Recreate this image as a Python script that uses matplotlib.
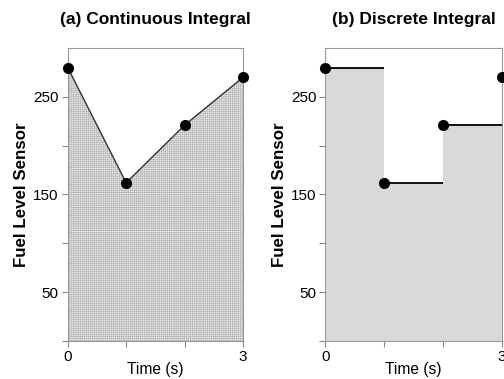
import matplotlib
matplotlib.use("Agg")
import matplotlib.pyplot as plt
import numpy as np

plt.rcParams['font.family'] = ['Liberation Sans', 'DejaVu Sans']
plt.rcParams['hatch.color'] = '#b4b4b4'
plt.rcParams['hatch.linewidth'] = 0.4

time_s = [0, 1, 2, 3]
fuel_level = [280, 162, 221, 270]
x_ticks = [0, 1, 2, 3]
x_tick_labels = ['0', '', '', '3']
y_ticks = [0, 50, 100, 150, 200, 250]
y_tick_labels = ['', '50', '', '150', '', '250']
titles = ['(a) Continuous Integral', '(b) Discrete Integral']

fig = plt.figure(figsize=(5.04, 3.79), dpi=100)
ax_a = fig.add_axes([0.1343, 0.1003, 0.348, 0.7731])
ax_b = fig.add_axes([0.6454, 0.1003, 0.350, 0.7731])

# (a) continuous
ax_a.fill_between(time_s, fuel_level, 0, facecolor='#e6e6e6', hatch='++++++++',
                  edgecolor='#b4b4b4', linewidth=0)
ax_a.plot(time_s, fuel_level, color='#333333', lw=1.0, marker='o',
          markersize=7, markerfacecolor='black', markeredgecolor='black',
          clip_on=False, zorder=5)

# (b) discrete
ax_b.bar(time_s[:-1], fuel_level[:-1], width=1, align='edge',
         color='#d9d9d9', linewidth=0)
ax_b.hlines(fuel_level[:-1], time_s[:-1], time_s[1:], color='black', lw=1.3, zorder=4)
ax_b.plot(time_s, fuel_level, linestyle='none', marker='o', markersize=7,
          color='black', clip_on=False, zorder=5)

for ax, title in zip([ax_a, ax_b], titles):
    ax.set_xlim(0, 3)
    ax.set_ylim(0, 300)
    ax.set_xticks(x_ticks)
    ax.set_xticklabels(x_tick_labels)
    ax.set_yticks(y_ticks)
    ax.set_yticklabels(y_tick_labels)
    ax.tick_params(axis='both', labelsize=11, color='#888888', length=4,
                   width=0.8, pad=2.5)
    for s in ax.spines.values():
        s.set_color('#999999')
        s.set_linewidth(0.8)
    ax.set_title(title, fontsize=12.5, fontweight='bold', pad=17)
    ax.set_ylabel('Fuel Level Sensor', fontsize=12.2, fontweight='bold', labelpad=3)
    ax.set_xlabel('Time (s)', fontsize=11.2, labelpad=-1.5)

fig.savefig('out.png', dpi=100)
